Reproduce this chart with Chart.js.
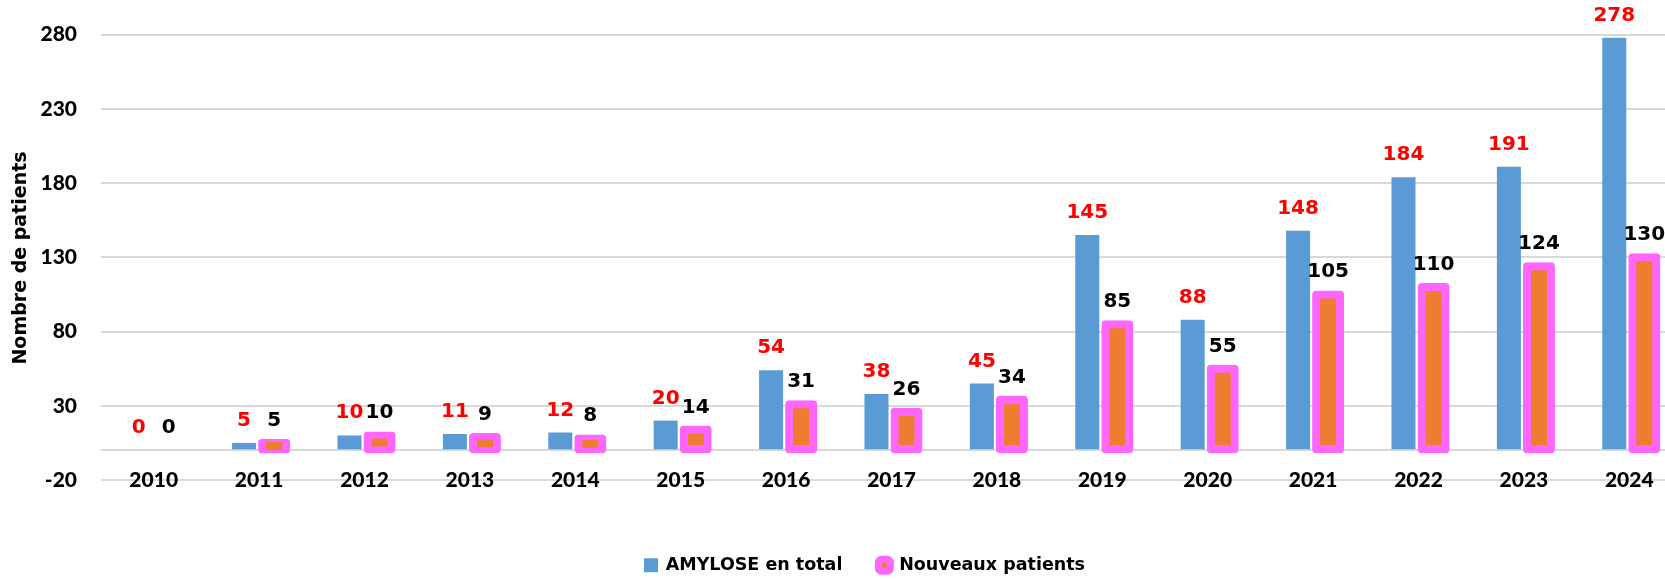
<!DOCTYPE html>
<html lang="fr">
  <head>
    <meta charset="utf-8">
    <title>Amylose - nombre de patients</title>
    <style>
      html, body { margin: 0; padding: 0; background: #fff; overflow: hidden; }
      .chartBox { width: 1685px; height: 580px; }
    </style>
  </head>
  <body>
    <div class="chartBox">
      <canvas id="myChart"></canvas>
    </div>

    <script src="https://cdn.jsdelivr.net/npm/chart.js/dist/chart.umd.min.js"></script>
    <script>
    // data
    const years = ['2010', '2011', '2012', '2013', '2014', '2015', '2016', '2017',
                   '2018', '2019', '2020', '2021', '2022', '2023', '2024'];
    const amyloseTotal = [0, 5, 10, 11, 12, 20, 54, 38, 45, 145, 88, 148, 184, 191, 278];
    const nouveauxPatients = [0, 5, 10, 9, 8, 14, 31, 26, 34, 85, 55, 105, 110, 124, 130];
    const yTickValues = [-20, 30, 80, 130, 180, 230, 280];
    const yMin = -20;
    const yMax = 300;
    const yTitle = 'Nombre de patients';

    const blue = '#5b9bd5';
    const orange = '#ed7d31';
    const pink = '#ff66ff';
    const axisFont = { family: 'Lato', weight: '900', size: 21 };

    // setup
    const data = {
      labels: years,
      datasets: [{
        label: 'AMYLOSE en total',
        data: amyloseTotal,
        backgroundColor: blue,
        borderWidth: 0,
        inflateAmount: 0,
        labelColor: '#ff0000'
      }, {
        label: 'Nouveaux patients',
        data: nouveauxPatients,
        backgroundColor: orange,
        borderColor: pink,
        borderWidth: 8,
        borderRadius: 4,
        borderSkipped: false,
        inflateAmount: 4,
        labelColor: '#000000'
      }]
    };

    // value labels above the bars
    const barValueLabels = {
      id: 'barValueLabels',
      afterDatasetsDraw(chart) {
        const { ctx, data } = chart;
        ctx.save();
        ctx.font = 'bold 20px "DejaVu Sans"';
        ctx.textAlign = 'center';
        ctx.textBaseline = 'alphabetic';
        data.datasets.forEach((ds, i) => {
          ctx.fillStyle = ds.labelColor;
          chart.getDatasetMeta(i).data.forEach((bar, j) => {
            ctx.fillText(ds.data[j], bar.x, bar.y - 17);
          });
        });
        ctx.restore();
      }
    };

    // y axis title, placed a bit lower than chart.js would centre it
    const yAxisTitle = {
      id: 'yAxisTitle',
      afterDraw(chart) {
        const { ctx } = chart;
        ctx.save();
        ctx.translate(21, 258);
        ctx.rotate(-Math.PI / 2);
        ctx.font = 'bold 19px "DejaVu Sans"';
        ctx.fillStyle = '#000';
        ctx.textAlign = 'center';
        ctx.textBaseline = 'middle';
        ctx.fillText(yTitle, 0, 0);
        ctx.restore();
      }
    };

    // nudge the legend to where it sits in the original
    const legendShift = {
      id: 'legendShift',
      afterLayout(chart) {
        const lg = chart.legend;
        lg.left += 24; lg.right += 24;
        lg.top += 4; lg.bottom += 4;
      }
    };

    // config
    const config = {
      type: 'bar',
      data,
      options: {
        responsive: true,
        maintainAspectRatio: false,
        animation: false,
        categoryPercentage: 0.57,
        barPercentage: 0.8,
        layout: { padding: { top: 5, right: 3, left: 0, bottom: 0 } },
        scales: {
          x: {
            grid: { display: false },
            border: { display: false },
            ticks: { font: axisFont, color: '#000', mirror: true, padding: -13, maxRotation: 0 },
            afterFit(axis) { axis.height = 36.5; }
          },
          y: {
            min: yMin,
            max: yMax,
            afterBuildTicks(axis) {
              axis.ticks = yTickValues.concat([0]).sort((a, b) => a - b).map(v => ({ value: v }));
            },
            afterFit(axis) {
              axis.width = 101;
              axis.paddingTop = 0;
              axis.paddingBottom = 0;
            },
            grid: { color: '#d9d9d9', lineWidth: 2, drawTicks: false },
            border: { display: false },
            ticks: {
              font: axisFont,
              color: '#000',
              padding: 24,
              callback: v => (v === 0 ? '' : v)
            }
          }
        },
        plugins: {
          tooltip: { enabled: false },
          legend: {
            position: 'bottom',
            labels: {
              font: { family: 'DejaVu Sans', weight: 'bold', size: 17.5 },
              color: '#000',
              padding: 36,
              boxWidth: 12,
              boxHeight: 12,
              useBorderRadius: true,
              generateLabels: () => [
                { text: 'AMYLOSE en total', fillStyle: blue, strokeStyle: blue, lineWidth: 2,
                  borderRadius: 0, datasetIndex: 0 },
                { text: 'Nouveaux patients', fillStyle: orange, strokeStyle: pink, lineWidth: 7,
                  borderRadius: 3, datasetIndex: 1 }
              ]
            }
          }
        }
      },
      plugins: [barValueLabels, yAxisTitle, legendShift]
    };

    // render init block
    const myChart = new Chart(
      document.getElementById('myChart'),
      config
    );
    </script>
  </body>
</html>
